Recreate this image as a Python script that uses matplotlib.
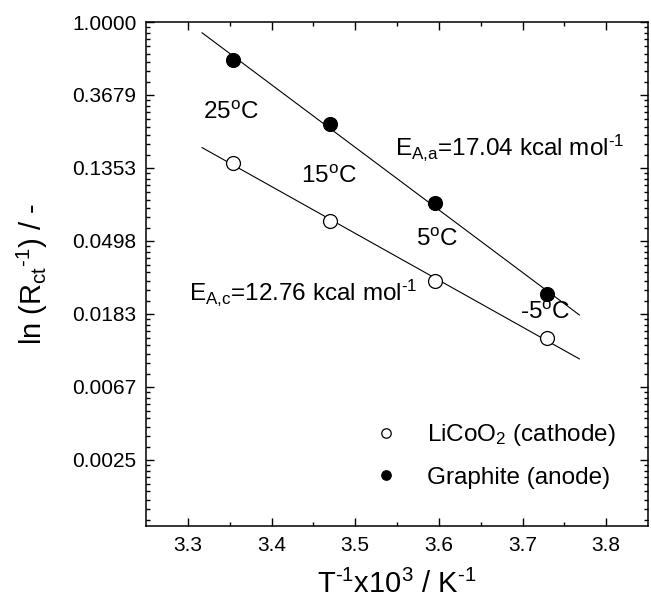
import numpy as np
import matplotlib
matplotlib.use("Agg")
import matplotlib.pyplot as plt
from matplotlib.ticker import FixedLocator, NullFormatter

plt.rcParams["font.family"] = ["Liberation Sans", "DejaVu Sans"]
plt.rcParams["mathtext.fontset"] = "custom"
plt.rcParams["mathtext.rm"] = "Liberation Sans"
plt.rcParams["mathtext.it"] = "Liberation Sans:italic"
plt.rcParams["mathtext.bf"] = "Liberation Sans:bold"

# ── Arrhenius data: 1000/T vs 1/Rct ──
temps_c = [25, 15, 5, -5]
inv_t = [3.354, 3.470, 3.595, 3.729]           # T^-1 x 10^3 / K^-1
rct_inv_cathode = [0.145, 0.0657, 0.0288, 0.0131]  # LiCoO2
rct_inv_anode = [0.594, 0.247, 0.0834, 0.0239]     # graphite

ea_cathode = 12.76   # kcal/mol
ea_anode = 17.04
R_KCAL = 1.987e-3
fit_range = (3.317, 3.768)

ytick_exp = [0, -1, -2, -3, -4, -5, -6]


def arrhenius_line(x, y, ea):
    # slope fixed by activation energy, intercept from the data
    slope = -ea / (R_KCAL * 1000.0)
    lx = np.log(np.asarray(y))
    b = lx.mean() - slope * np.mean(x)
    xs = np.linspace(*fit_range, 50)
    return xs, np.exp(b + slope * xs)


def sup(s):
    return r"$^{\text{%s}}$" % s


def sub(s):
    return r"$_{\text{%s}}$" % s


fig = plt.figure(figsize=(6.51, 6.00), dpi=100)
ax = fig.add_axes([0.2243, 0.1233, 0.9954 - 0.2243, 0.9633 - 0.1233])

xs, ys = arrhenius_line(inv_t, rct_inv_cathode, ea_cathode)
ax.plot(xs, ys, color="black", lw=0.8)
xs, ys = arrhenius_line(inv_t, rct_inv_anode, ea_anode)
ax.plot(xs, ys, color="black", lw=0.8)

ax.plot(inv_t, rct_inv_cathode, "o", ms=10, mfc="white", mec="black", mew=0.9,
        ls="none", label="LiCoO" + sub("2") + " (cathode)")
ax.plot(inv_t, rct_inv_anode, "o", ms=10, mfc="black", mec="black", mew=0.9,
        ls="none", label="Graphite (anode)")

ax.set_yscale("log", base=np.e)
ax.set_xlim(3.25, 3.85)
ax.set_ylim(0.001, 1.0)

yt = [np.exp(k) for k in ytick_exp]
ax.yaxis.set_major_locator(FixedLocator(yt))
ax.set_yticklabels([f"{v:.4f}" for v in yt])
minors = []
for k in range(0, -7, -1):
    lo, hi = np.exp(k - 1), np.exp(k)
    minors += [lo + j * (hi - lo) / 9 for j in range(1, 9)]
ax.yaxis.set_minor_locator(FixedLocator([m for m in minors if m > 0.001]))
ax.yaxis.set_minor_formatter(NullFormatter())

ax.set_xticks([3.3, 3.4, 3.5, 3.6, 3.7, 3.8])
ax.set_xticklabels(["3.3", "3.4", "3.5", "3.6", "3.7", "3.8"])
ax.xaxis.set_minor_locator(FixedLocator([3.35, 3.45, 3.55, 3.65, 3.75]))

ax.tick_params(which="both", direction="in", top=True, right=True, width=1.0)
ax.tick_params(which="major", length=6, labelsize=15, pad=7)
ax.tick_params(which="minor", length=3)
for sp in ax.spines.values():
    sp.set_linewidth(1.1)

ax.set_xlabel("T" + sup("-1") + "x10" + sup("3") + " / K" + sup("-1"), fontsize=21, labelpad=11)
ax.set_ylabel("ln (R" + sub("ct") + sup("-1") + ") / -", fontsize=21, labelpad=16)

# temperature labels
ann = [("25", 3.352, -1.25), ("15", 3.469, -2.12), ("5", 3.598, -2.99), ("-5", 3.727, -3.99)]
for t, x, ly in ann:
    ax.text(x, np.exp(ly), t + sup("o") + "C", fontsize=17.5, ha="center", va="center")

ax.text(3.5476, np.exp(-1.82), "E" + sub("A,a") + "=%.2f kcal mol" % ea_anode + sup("-1"),
        fontsize=17.5, ha="left", va="baseline")
ax.text(3.301, np.exp(-3.81), "E" + sub("A,c") + "=%.2f kcal mol" % ea_cathode + sup("-1"),
        fontsize=17.5, ha="left", va="baseline")

ax.legend(loc="lower right", bbox_to_anchor=(0.955, 0.055), frameon=False, fontsize=17.5,
          markerscale=0.68, handlelength=1.0, handletextpad=1.2, labelspacing=0.75,
          borderaxespad=0)

fig.savefig("out.png", dpi=100)
